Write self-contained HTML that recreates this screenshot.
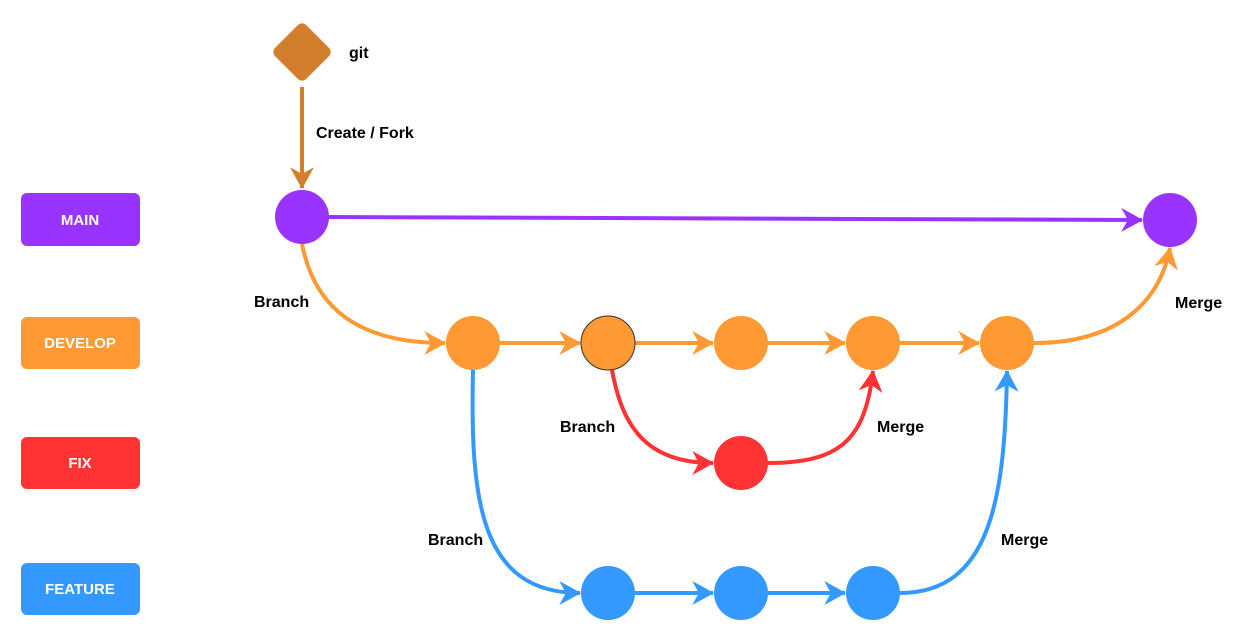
<!DOCTYPE html>
<html><head><meta charset="utf-8"><style>
html,body{margin:0;padding:0;background:#fff;}
svg{display:block;font-family:"Liberation Sans",Arial,sans-serif;}
</style></head><body>
<svg width="1250" height="641" viewBox="0 0 1250 641" xmlns="http://www.w3.org/2000/svg">
<defs>
<marker id="ab" markerUnits="userSpaceOnUse" markerWidth="24" markerHeight="24" viewBox="0 0 20 22" refX="19" refY="11" orient="auto"><path d="M0,0 L20,11 L0,22 L6,11 z" fill="#D27E2C"/></marker>
<marker id="ap" markerUnits="userSpaceOnUse" markerWidth="24" markerHeight="24" viewBox="0 0 20 22" refX="19" refY="11" orient="auto"><path d="M0,0 L20,11 L0,22 L6,11 z" fill="#9933FF"/></marker>
<marker id="ao" markerUnits="userSpaceOnUse" markerWidth="24" markerHeight="24" viewBox="0 0 20 22" refX="19" refY="11" orient="auto"><path d="M0,0 L20,11 L0,22 L6,11 z" fill="#FF9933"/></marker>
<marker id="ar" markerUnits="userSpaceOnUse" markerWidth="24" markerHeight="24" viewBox="0 0 20 22" refX="19" refY="11" orient="auto"><path d="M0,0 L20,11 L0,22 L6,11 z" fill="#FF3333"/></marker>
<marker id="abl" markerUnits="userSpaceOnUse" markerWidth="24" markerHeight="24" viewBox="0 0 20 22" refX="19" refY="11" orient="auto"><path d="M0,0 L20,11 L0,22 L6,11 z" fill="#3399FF"/></marker>
</defs>

<g font-weight="bold" font-size="15" fill="#fff" text-anchor="middle">
<rect x="21" y="193" width="119" height="53" rx="6" fill="#9933FF"/><text x="80" y="225">MAIN</text>
<rect x="21" y="317" width="119" height="52" rx="6" fill="#FF9933"/><text x="80" y="348">DEVELOP</text>
<rect x="21" y="437" width="119" height="52" rx="6" fill="#FF3333"/><text x="80" y="468">FIX</text>
<rect x="21" y="563" width="119" height="52" rx="6" fill="#3399FF"/><text x="80" y="594">FEATURE</text>
</g>

<rect x="280" y="30" width="44" height="44" rx="6" fill="#D27E2C" transform="rotate(45 302 52)"/>
<line x1="302" y1="87" x2="302" y2="188" stroke="#D27E2C" stroke-width="4" marker-end="url(#ab)"/>

<g fill="none" stroke-width="4">
<line x1="329" y1="217" x2="1142" y2="220" stroke="#9933FF" marker-end="url(#ap)"/>
<path d="M302,244 C315,310 360,343 445,343" stroke="#FF9933" marker-end="url(#ao)"/>
<line x1="500" y1="343" x2="580" y2="343" stroke="#FF9933" marker-end="url(#ao)"/>
<line x1="635" y1="343" x2="713" y2="343" stroke="#FF9933" marker-end="url(#ao)"/>
<line x1="768" y1="343" x2="845" y2="343" stroke="#FF9933" marker-end="url(#ao)"/>
<line x1="900" y1="343" x2="979" y2="343" stroke="#FF9933" marker-end="url(#ao)"/>
<path d="M1034,343 C1120,343 1160,300 1170,248" stroke="#FF9933" marker-end="url(#ao)"/>
<path d="M612,370 C622,425 645,463 713,463" stroke="#FF3333" marker-end="url(#ar)"/>
<path d="M768,463 C840,463 865,440 873,371" stroke="#FF3333" marker-end="url(#ar)"/>
<path d="M473,370 C470,500 480,593 580,593" stroke="#3399FF" marker-end="url(#abl)"/>
<line x1="635" y1="593" x2="713" y2="593" stroke="#3399FF" marker-end="url(#abl)"/>
<line x1="768" y1="593" x2="845" y2="593" stroke="#3399FF" marker-end="url(#abl)"/>
<path d="M900,593 C990,593 1005,500 1007,371" stroke="#3399FF" marker-end="url(#abl)"/>
</g>

<circle cx="302" cy="217" r="27" fill="#9933FF"/>
<circle cx="1170" cy="220" r="27" fill="#9933FF"/>
<circle cx="473" cy="343" r="27" fill="#FF9933"/>
<circle cx="608" cy="343" r="27" fill="#FF9933" stroke="#333" stroke-width="1"/>
<circle cx="741" cy="343" r="27" fill="#FF9933"/>
<circle cx="873" cy="343" r="27" fill="#FF9933"/>
<circle cx="1007" cy="343" r="27" fill="#FF9933"/>
<circle cx="741" cy="463" r="27" fill="#FF3333"/>
<circle cx="608" cy="593" r="27" fill="#3399FF"/>
<circle cx="741" cy="593" r="27" fill="#3399FF"/>
<circle cx="873" cy="593" r="27" fill="#3399FF"/>

<g font-weight="bold" font-size="16" fill="#000">
<text x="349" y="58">git</text>
<text x="316" y="138">Create / Fork</text>
<text x="254" y="307">Branch</text>
<text x="1175" y="308">Merge</text>
<text x="560" y="432">Branch</text>
<text x="877" y="432">Merge</text>
<text x="428" y="545">Branch</text>
<text x="1001" y="545">Merge</text>
</g>
</svg>
</body></html>
